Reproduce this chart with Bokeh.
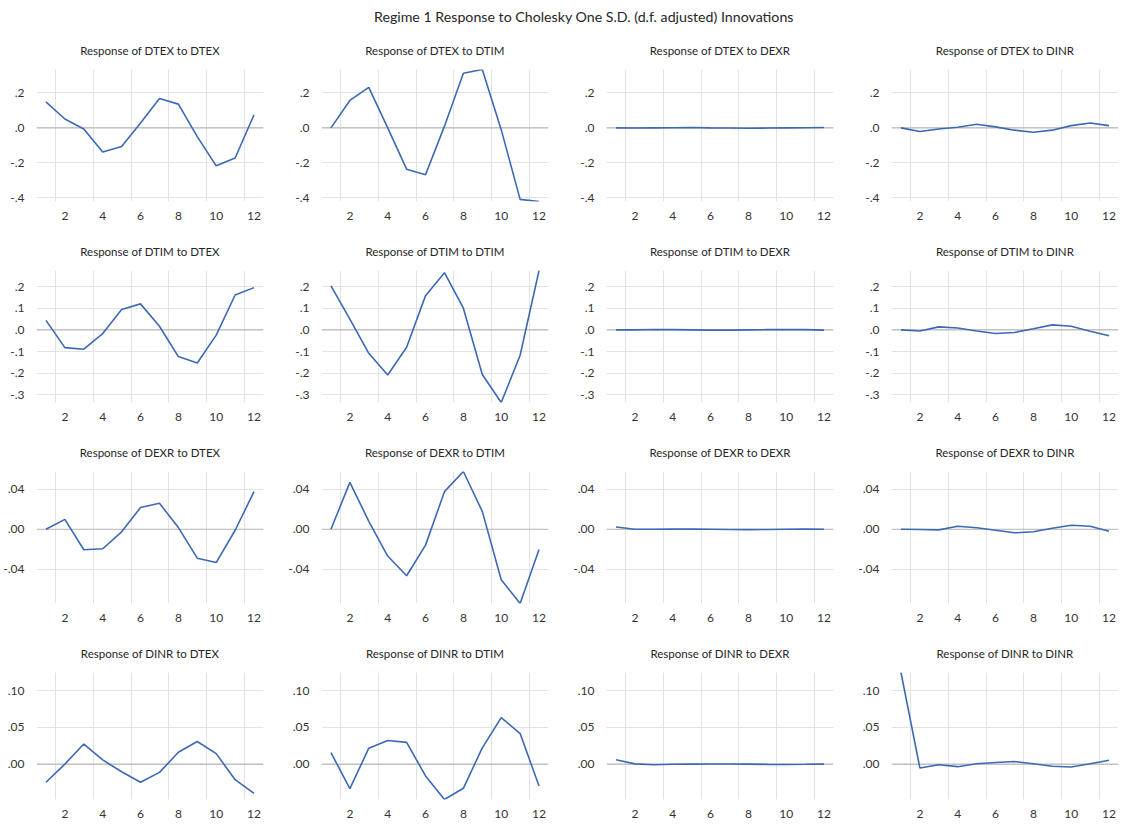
from bokeh.plotting import figure
from bokeh.layouts import gridplot, column
from bokeh.models import Range1d, FixedTicker, CustomJSTickFormatter, Span, Div
from bokeh.embed import file_html
from bokeh.resources import INLINE

main_title = "Regime 1 Response to Cholesky One S.D. (d.f. adjusted) Innovations"
variables = ["DTEX", "DTIM", "DEXR", "DINR"]
periods = [1, 2, 3, 4, 5, 6, 7, 8, 9, 10, 11, 12]
x_labels = [2, 4, 6, 8, 10, 12]

# Responses (row variable) to shocks (column variable)
dtex_dtex = [0.149, 0.051, -0.006, -0.138, -0.106, 0.028, 0.168, 0.136, -0.05, -0.217, -0.172, 0.075]
dtex_dtim = [0.0, 0.157, 0.232, 0.0, -0.236, -0.268, 0.01, 0.313, 0.334, -0.01, -0.409, -0.421]
dtex_dexr = [0.0, -0.001, 0.0, 0.001, 0.002, 0.0, -0.001, -0.002, -0.001, 0.0, 0.001, 0.002]
dtex_dinr = [0.0, -0.021, -0.006, 0.004, 0.021, 0.006, -0.013, -0.025, -0.013, 0.013, 0.028, 0.013]

dtim_dtex = [0.044, -0.082, -0.089, -0.017, 0.094, 0.12, 0.017, -0.123, -0.153, -0.024, 0.161, 0.195]
dtim_dtim = [0.203, 0.05, -0.108, -0.208, -0.08, 0.158, 0.264, 0.1, -0.206, -0.335, -0.117, 0.274]
dtim_dexr = [0.0, 0.0, 0.002, 0.001, 0.0, -0.001, -0.001, 0.0, 0.001, 0.002, 0.001, -0.001]
dtim_dinr = [0.0, -0.005, 0.014, 0.009, -0.005, -0.017, -0.012, 0.005, 0.023, 0.017, -0.006, -0.027]

dexr_dtex = [0.0, 0.0099, -0.0205, -0.0195, -0.0026, 0.0218, 0.0261, 0.0017, -0.029, -0.0334, -0.001, 0.0377]
dexr_dtim = [0.0, 0.047, 0.008, -0.0268, -0.0466, -0.0159, 0.0377, 0.0579, 0.0179, -0.0506, -0.0744, -0.0202]
dexr_dexr = [0.0023, 0.0, 0.0, 0.0002, 0.0001, 0.0, -0.0003, -0.0004, -0.0002, 0.0, 0.0002, 0.0]
dexr_dinr = [0.0, -0.0003, -0.0006, 0.003, 0.0015, -0.001, -0.0035, -0.0025, 0.001, 0.004, 0.003, -0.002]

dinr_dtex = [-0.0248, 0.0, 0.0274, 0.0057, -0.0104, -0.0248, -0.0113, 0.0161, 0.0309, 0.0143, -0.0213, -0.04]
dinr_dtim = [0.0157, -0.0335, 0.0217, 0.0322, 0.0296, -0.0161, -0.0483, -0.033, 0.0222, 0.0635, 0.0417, -0.03]
dinr_dexr = [0.006, 0.0003, -0.0008, -0.0003, 0.0, 0.0002, 0.0002, 0.0, -0.0004, -0.0005, -0.0003, 0.0]
dinr_dinr = [0.125, -0.0052, -0.0009, -0.0035, 0.0004, 0.0022, 0.0035, 0.0004, -0.003, -0.0039, 0.0004, 0.0052]

y_ticks_dtex = [-0.4, -0.2, 0.0, 0.2]
y_ticks_dtim = [-0.3, -0.2, -0.1, 0.0, 0.1, 0.2]
y_ticks_dexr = [-0.04, 0.0, 0.04]
y_ticks_dinr = [0.0, 0.05, 0.10]
y_decimals = [1, 1, 2, 2]

responses = [
    [dtex_dtex, dtex_dtim, dtex_dexr, dtex_dinr],
    [dtim_dtex, dtim_dtim, dtim_dexr, dtim_dinr],
    [dexr_dtex, dexr_dtim, dexr_dexr, dexr_dinr],
    [dinr_dtex, dinr_dtim, dinr_dexr, dinr_dinr],
]
row_ticks = [y_ticks_dtex, y_ticks_dtim, y_ticks_dexr, y_ticks_dinr]

FONT = "Lato"
LINE_COLOR = "#3c69b5"
TEXT_COLOR = "#262626"
GRID_COLOR = "#e3e3e3"

MB_LEFT = 30
FRAME_W = 233
MB_RIGHT = 22
MB_TOP = 41
FRAME_H = 132
MB_BOTTOM = 28

grid = []
for i, resp in enumerate(variables):
    row_vals = [v for series in responses[i] for v in series]
    ymin, ymax = min(row_vals), max(row_vals)
    row_figs = []
    for j, shock in enumerate(variables):
        last_col = j == 3
        last_row = i == 3
        mbr = 1 if last_col else MB_RIGHT
        mbb = 16 if last_row else MB_BOTTOM
        p = figure(
            width=MB_LEFT + FRAME_W + mbr,
            height=MB_TOP + FRAME_H + mbb,
            x_range=Range1d(0.5, 12.5),
            y_range=Range1d(ymin, ymax),
            toolbar_location=None,
            output_backend="svg",
            min_border_left=MB_LEFT,
            min_border_right=mbr,
            min_border_top=MB_TOP,
            min_border_bottom=mbb,
            title=f"Response of {resp} to {shock}",
        )
        p.title.align = "center"
        p.title.text_font = FONT
        p.title.text_font_size = "11.5px"
        p.title.text_font_style = "normal"
        p.title.text_color = TEXT_COLOR
        p.title.standoff = 25
        p.outline_line_color = None

        p.xaxis.ticker = FixedTicker(ticks=x_labels)
        p.xgrid.ticker = FixedTicker(ticks=[t - 0.5 for t in x_labels])
        p.yaxis.ticker = FixedTicker(ticks=row_ticks[i])
        p.ygrid.ticker = FixedTicker(ticks=row_ticks[i])
        p.yaxis.formatter = CustomJSTickFormatter(
            args=dict(d=y_decimals[i]),
            code="return tick.toFixed(d).replace(/^(-?)0\\./, '$1.');",
        )
        for ax in (p.xaxis[0], p.yaxis[0]):
            ax.axis_line_color = None
            ax.major_tick_line_color = None
            ax.minor_tick_line_color = None
            ax.major_label_text_font = FONT
            ax.major_label_text_font_size = "12px"
            ax.major_label_text_color = "#333333"
        p.xaxis.major_label_standoff = 4
        p.yaxis.major_label_standoff = 6
        p.xgrid.grid_line_color = GRID_COLOR
        p.ygrid.grid_line_color = GRID_COLOR

        p.add_layout(Span(location=0, dimension="width", line_color="#bababa",
                          line_width=1.2, level="underlay"))
        p.line(periods, responses[i][j], line_color=LINE_COLOR, line_width=1.6)
        row_figs.append(p)
    grid.append(row_figs)

title_div = Div(
    text=(f"<div style='width:1119px;box-sizing:border-box;padding-left:374px;padding-top:7px;"
          f"font-family:Lato;font-size:14.2px;color:{TEXT_COLOR};white-space:nowrap'>{main_title}</div>"),
    width=1119,
    height=28,
    margin=0,
)

gp = gridplot(grid, toolbar_location=None)
layout = column(title_div, gp, spacing=0)

open("out.html", "w").write(file_html(layout, INLINE))
